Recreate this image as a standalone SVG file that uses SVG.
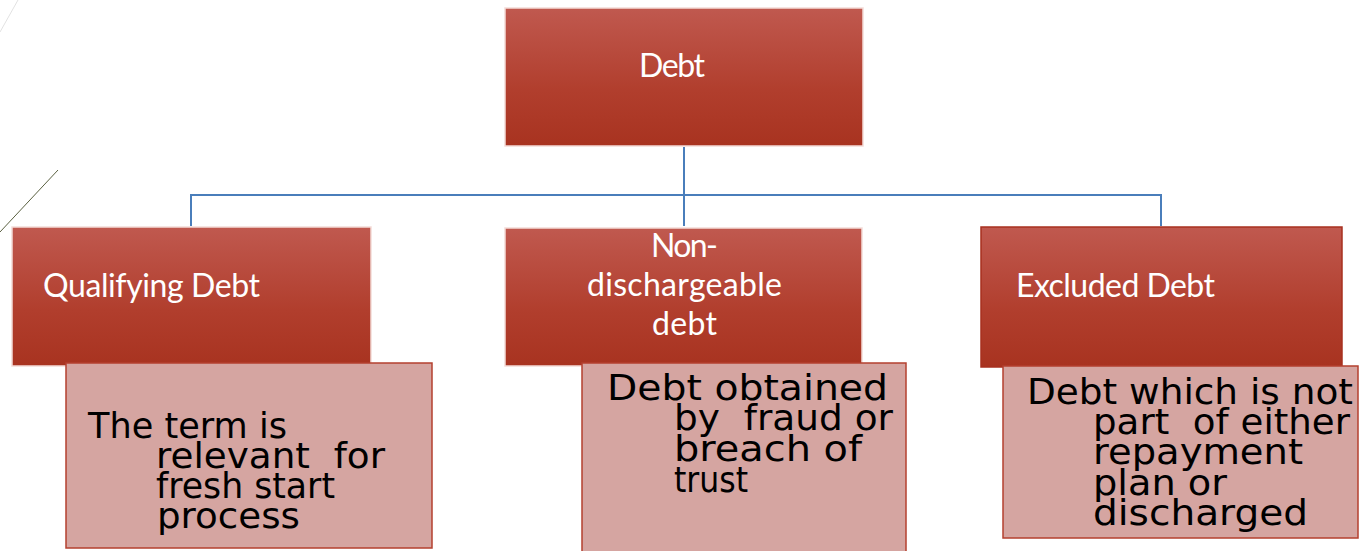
<svg xmlns="http://www.w3.org/2000/svg" width="1361" height="551" viewBox="0 0 1361 551">
<defs>
<linearGradient id="red" x1="0" y1="0" x2="0" y2="1">
<stop offset="0" stop-color="#c0594f"/>
<stop offset="0.6" stop-color="#b13e2d"/>
<stop offset="1" stop-color="#a83320"/>
</linearGradient>
<style>
.hd{fill:url(#red);stroke:#f4dcd8;stroke-width:1.5}
.hd2{fill:url(#red);stroke:#a8301f;stroke-width:1.5}
.pk{fill:#d5a5a1;stroke:#b4402f;stroke-width:1.5}
.wt{font-family:Lato,"Liberation Sans",sans-serif;font-size:32px;fill:#ffffff}
.bt{font-family:"DejaVu Sans","Liberation Sans",sans-serif;font-size:36px;fill:#000000;white-space:pre}
.cn{fill:none;stroke:#4a7ebb;stroke-width:2}
</style>
</defs>
<rect width="1361" height="551" fill="#ffffff"/>
<g id="decor">
<line x1="0" y1="232" x2="58" y2="170" stroke="#5a6040" stroke-width="1"/>
<line x1="0" y1="32" x2="18" y2="0" stroke="#e2e2e2" stroke-width="1"/>
</g>
<g id="connectors">
<line class="cn" x1="684" y1="147" x2="684" y2="226"/>
<polyline class="cn" points="191,226 191,195 1161,195 1161,226"/>
</g>
<g id="debt">
<rect class="hd" x="505" y="8" width="358" height="138"/>
<text class="wt" x="672" y="77" text-anchor="middle" textLength="66">Debt</text>
</g>
<g id="qualifying">
<rect class="hd" x="12" y="227" width="359" height="139"/>
<text class="wt" x="43" y="297" textLength="217">Qualifying Debt</text>
</g>
<g id="qualifying-note">
<rect class="pk" x="66" y="363" width="366" height="185"/>
<text class="bt" x="88" y="438" textLength="199" lengthAdjust="spacingAndGlyphs">The term is</text>
<text class="bt" x="156" y="468" textLength="229" lengthAdjust="spacingAndGlyphs" xml:space="preserve">relevant  for</text>
<text class="bt" x="156" y="498" textLength="179" lengthAdjust="spacingAndGlyphs">fresh start</text>
<text class="bt" x="157" y="528" textLength="143" lengthAdjust="spacingAndGlyphs">process</text>
</g>
<g id="nondischargeable">
<rect class="hd" x="505" y="228" width="357" height="138"/>
<text class="wt" x="684.5" y="257" text-anchor="middle" textLength="67">Non-</text>
<text class="wt" x="684.5" y="296" text-anchor="middle" textLength="195">dischargeable</text>
<text class="wt" x="684.5" y="335" text-anchor="middle" textLength="65">debt</text>
</g>
<g id="nondischargeable-note">
<rect class="pk" x="582" y="363" width="324" height="190"/>
<text class="bt" x="607" y="400" textLength="281" lengthAdjust="spacingAndGlyphs">Debt obtained</text>
<text class="bt" x="674" y="430" textLength="219" lengthAdjust="spacingAndGlyphs" xml:space="preserve">by  fraud or</text>
<text class="bt" x="674" y="461" textLength="188" lengthAdjust="spacingAndGlyphs">breach of</text>
<text class="bt" x="674" y="492" textLength="74" lengthAdjust="spacingAndGlyphs">trust</text>
</g>
<g id="excluded">
<rect class="hd2" x="981" y="227" width="361" height="140"/>
<text class="wt" x="1016" y="297" textLength="199">Excluded Debt</text>
</g>
<g id="excluded-note">
<rect class="pk" x="1003" y="366" width="355" height="172"/>
<text class="bt" x="1027" y="404" textLength="326" lengthAdjust="spacingAndGlyphs">Debt which is not</text>
<text class="bt" x="1093" y="434" textLength="257" lengthAdjust="spacingAndGlyphs" xml:space="preserve">part  of either</text>
<text class="bt" x="1093" y="464" textLength="210" lengthAdjust="spacingAndGlyphs">repayment</text>
<text class="bt" x="1093" y="495" textLength="134" lengthAdjust="spacingAndGlyphs">plan or</text>
<text class="bt" x="1093" y="525" textLength="215" lengthAdjust="spacingAndGlyphs">discharged</text>
</g>
</svg>
